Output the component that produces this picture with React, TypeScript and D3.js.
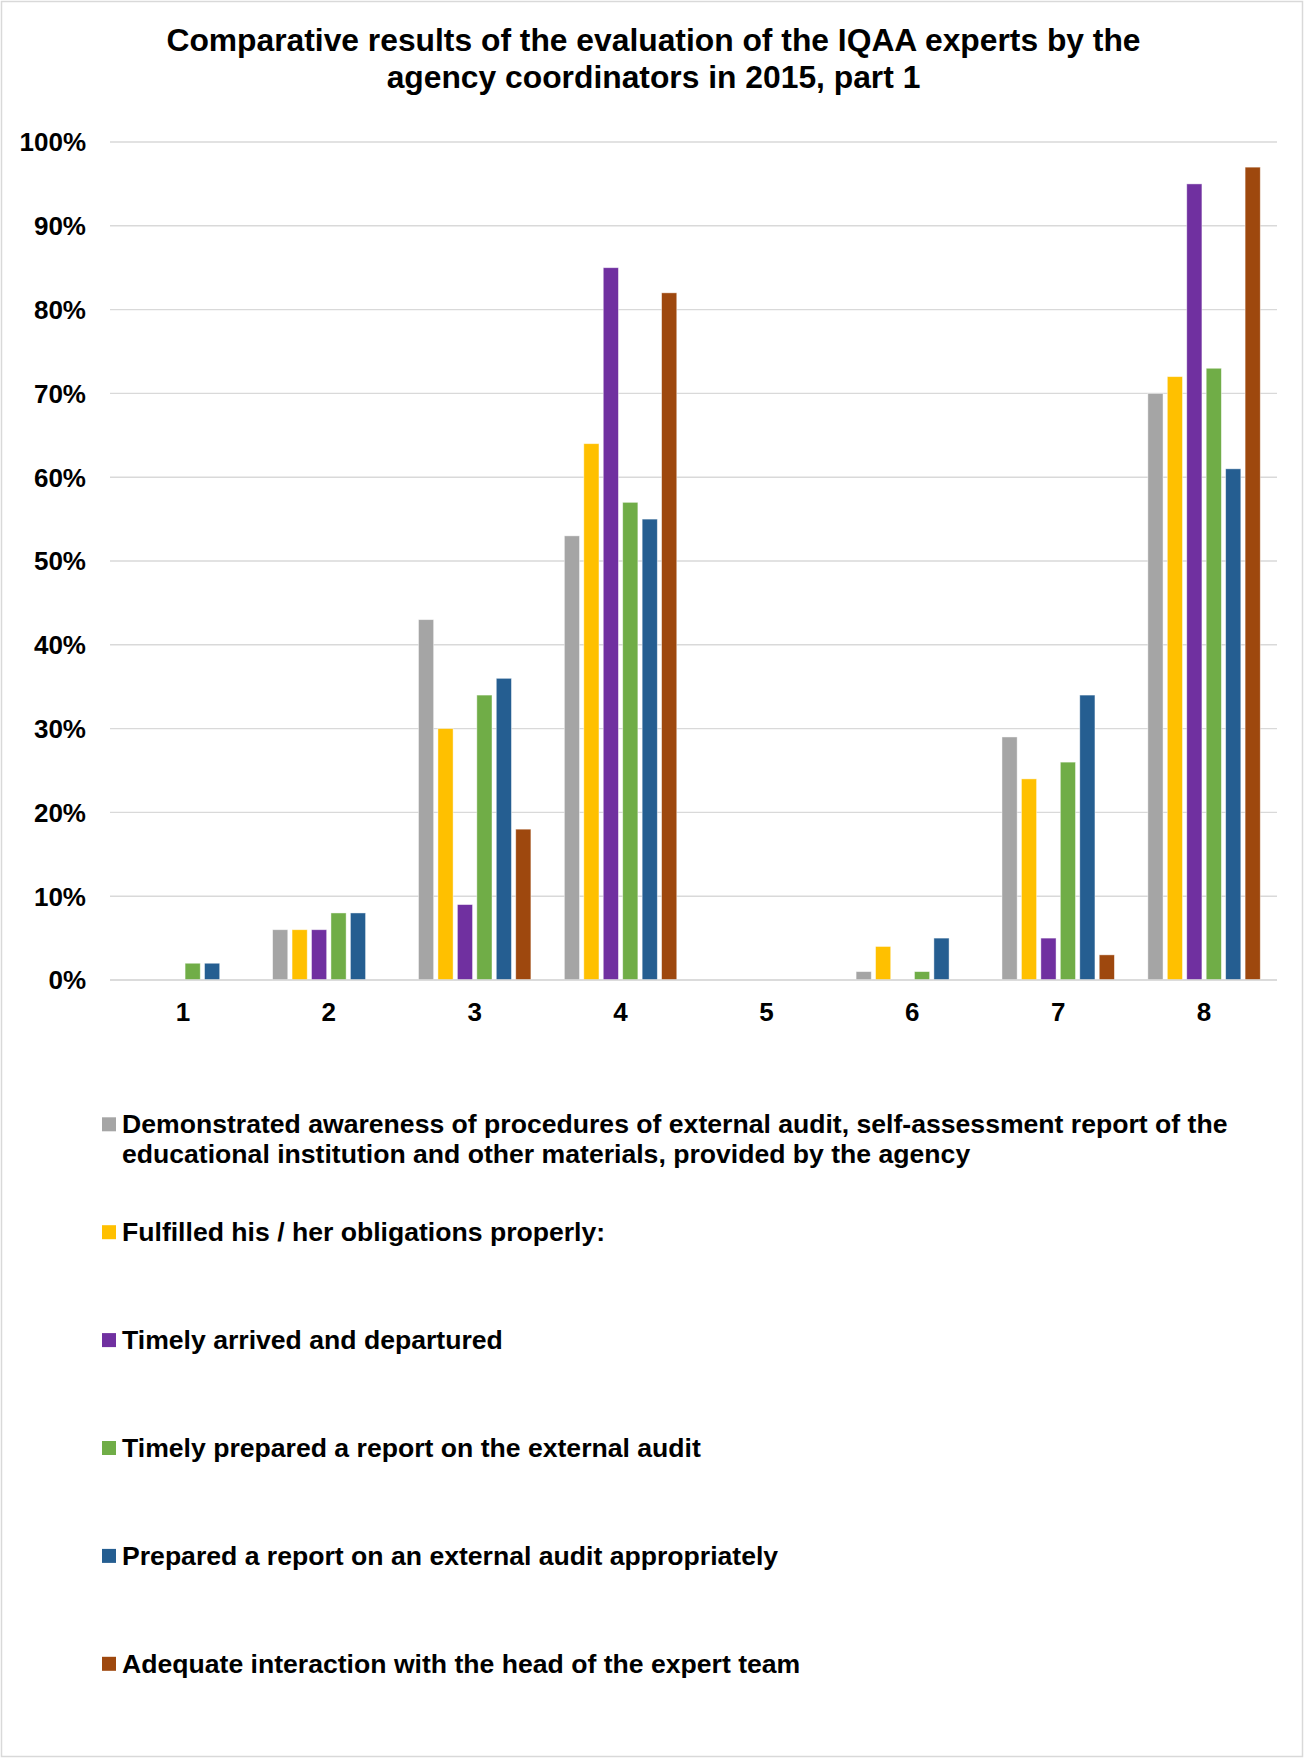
import React, { useMemo } from "react";
import * as d3 from "d3";

// Chart data
const titleLines = [
  "Comparative results of the evaluation of the IQAA experts by the",
  "agency coordinators in 2015, part 1",
];

const categories = ["1", "2", "3", "4", "5", "6", "7", "8"];

const seriesNames = [
  "Demonstrated awareness of procedures of external audit, self-assessment report of the educational institution and other materials, provided by the agency",
  "Fulfilled his / her obligations properly:",
  "Timely arrived and departured",
  "Timely prepared a report on the external audit",
  "Prepared a report on an external audit appropriately",
  "Adequate interaction with the head of the expert team",
];

const seriesColors = ["#A5A5A5", "#FFC000", "#7030A0", "#70AD47", "#255E91", "#9E480E"];

// Share of answers (%) per category 1..8
const awareness = [0, 6, 43, 53, 0, 1, 29, 70];
const obligations = [0, 6, 30, 64, 0, 4, 24, 72];
const arrival = [0, 6, 9, 85, 0, 0, 5, 95];
const timelyReport = [2, 8, 34, 57, 0, 1, 26, 73];
const reportQuality = [2, 8, 36, 55, 0, 5, 34, 61];
const interaction = [0, 0, 18, 82, 0, 0, 3, 97];

const seriesValues = [awareness, obligations, arrival, timelyReport, reportQuality, interaction];

const yTicks = [0, 10, 20, 30, 40, 50, 60, 70, 80, 90, 100];

const W = 1307;
const H = 1759;
const FONT = "'Liberation Sans', Arial, Helvetica, sans-serif";

function wrapText(text: string, maxWidth: number, font: string): string[] {
  const canvas = document.createElement("canvas");
  const ctx = canvas.getContext("2d");
  if (!ctx) return [text];
  ctx.font = font;
  const words = text.split(" ");
  const lines: string[] = [];
  let cur = "";
  for (const w of words) {
    const test = cur ? cur + " " + w : w;
    if (ctx.measureText(test).width > maxWidth && cur) {
      lines.push(cur);
      cur = w;
    } else {
      cur = test;
    }
  }
  if (cur) lines.push(cur);
  return lines;
}

export default function App() {
  const plot = { left: 110, right: 1277, top: 142, bottom: 980 };

  const y = d3.scaleLinear().domain([0, 100]).range([plot.bottom, plot.top]);
  const x0 = d3
    .scaleBand<string>()
    .domain(categories)
    .range([plot.left, plot.right])
    .paddingInner(0.2)
    .paddingOuter(0.1);
  const x1 = d3
    .scaleBand<number>()
    .domain(d3.range(seriesNames.length))
    .range([0, x0.bandwidth()])
    .paddingInner(0.22)
    .paddingOuter(0.11);

  const legendFontSize = 26.6;
  const legendLines = useMemo(
    () => seriesNames.map((n) => wrapText(n, 1150, `bold ${legendFontSize}px ${FONT}`)),
    []
  );

  const legendX = 102;
  const legendTextX = 122;
  const legendBaseline0 = 1133.3;
  const legendStep = 107.9;
  const legendLineGap = 30;

  return (
    <svg
      width={W}
      height={H}
      viewBox={`0 0 ${W} ${H}`}
      style={{ position: "absolute", left: 0, top: 0, display: "block", background: "#fff" }}
      fontFamily={FONT}
    >
      <rect x={0} y={0} width={W} height={H} fill="#fff" />
      <rect x={1.5} y={1.5} width={1301} height={1755} fill="none" stroke="#D9D9D9" strokeWidth={1.5} />

      {/* Title */}
      {titleLines.map((t, i) => (
        <text
          key={i}
          x={653.5}
          y={51 + i * 36.5}
          textAnchor="middle"
          fontSize={31.8}
          fontWeight="bold"
          fill="#000"
        >
          {t}
        </text>
      ))}

      {/* Gridlines and y-axis labels */}
      {yTicks.map((t) => (
        <g key={t}>
          <line
            x1={plot.left}
            x2={plot.right}
            y1={y(t)}
            y2={y(t)}
            stroke="#D9D9D9"
            strokeWidth={1.4}
          />
          <text
            x={86}
            y={y(t)}
            dy="0.36em"
            textAnchor="end"
            fontSize={26}
            fontWeight="bold"
            fill="#000"
          >
            {d3.format(".0%")(t / 100)}
          </text>
        </g>
      ))}

      {/* Bars */}
      {categories.map((c, ci) => (
        <g key={c} transform={`translate(${x0(c)},0)`}>
          {seriesValues.map((vals, si) =>
            vals[ci] > 0 ? (
              <rect
                key={si}
                x={x1(si)}
                y={y(vals[ci])}
                width={x1.bandwidth()}
                height={y(0) - y(vals[ci])}
                fill={seriesColors[si]}
                stroke="#ffffff"
                strokeOpacity={0.55}
                strokeWidth={0.8}
              />
            ) : null
          )}
        </g>
      ))}

      {/* Baseline */}
      <line x1={plot.left} x2={plot.right} y1={y(0)} y2={y(0)} stroke="#D9D9D9" strokeWidth={1.6} />

      {/* Category labels */}
      {categories.map((c) => (
        <text
          key={c}
          x={(x0(c) ?? 0) + x0.bandwidth() / 2}
          y={1021}
          textAnchor="middle"
          fontSize={26}
          fontWeight="bold"
          fill="#000"
        >
          {c}
        </text>
      ))}

      {/* Legend */}
      {legendLines.map((lines, i) => {
        const base = legendBaseline0 + i * legendStep;
        return (
          <g key={i}>
            <rect
              x={legendX}
              y={base - 16}
              width={14}
              height={14}
              fill={seriesColors[i]}
            />
            {lines.map((ln, li) => (
              <text
                key={li}
                x={legendTextX}
                y={base + li * legendLineGap}
                fontSize={legendFontSize}
                fontWeight="bold"
                fill="#000"
              >
                {ln}
              </text>
            ))}
          </g>
        );
      })}
    </svg>
  );
}
